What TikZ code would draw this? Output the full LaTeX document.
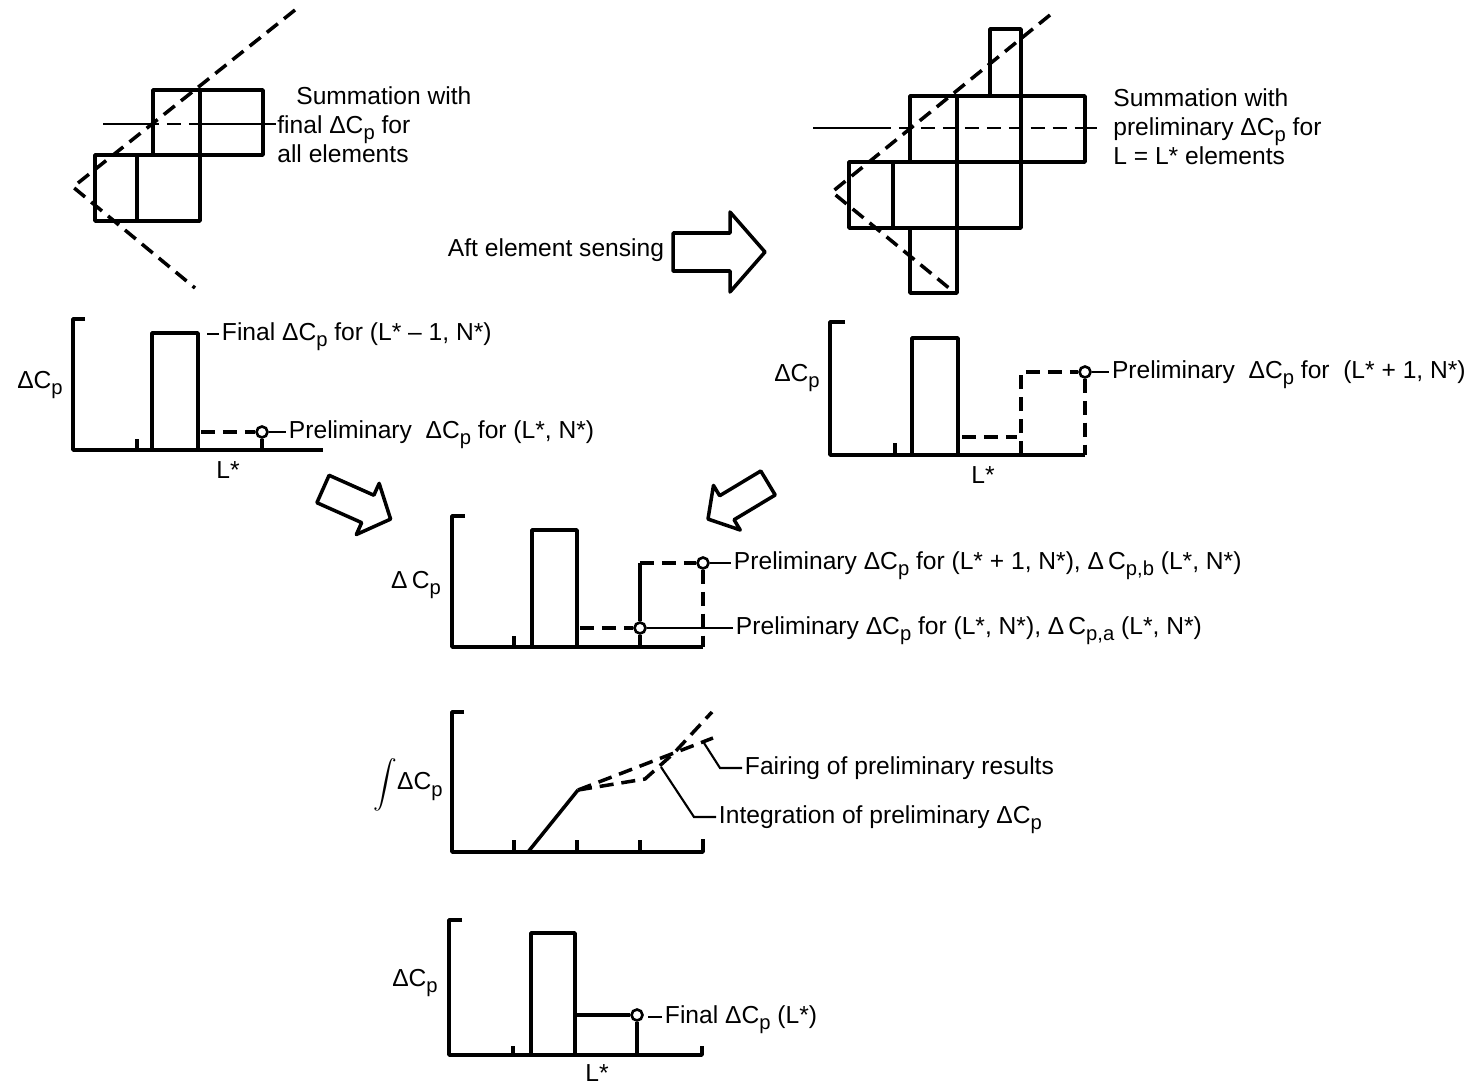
\documentclass[tikz,border=0pt]{standalone}
\usepackage{fontspec}
\setmainfont{Liberation Sans}
\usetikzlibrary{positioning}
\newcommand{\lblfont}{\fontsize{14}{14.9}\selectfont\lineskiplimit=-20pt\relax}
\newcommand{\blockfont}{\fontsize{14}{16.6}\selectfont\lineskiplimit=-20pt\relax}
\newcommand{\dsub}[1]{\raisebox{-0.5ex}{\fontsize{11.5}{11.5}\selectfont #1}}
\newcommand{\dCp}{ΔC\dsub{p}}
\tikzset{
  outline/.style={line width=2pt, line join=round},
  dashline/.style={outline, dash pattern=on 8pt off 4.5pt},
  thinline/.style={line width=1.2pt},
  thindash/.style={thinline, dash pattern=on 8pt off 4.5pt},
  lbl/.style={font=\lblfont, inner sep=1.5pt, text height=1.38ex, text depth=0pt},
  axlbl/.style={font=\lblfont, inner sep=0pt},
  textblock/.style={font=\blockfont, align=left, inner sep=0pt},
  probe/.style={circle, draw, fill=white, line width=1.5pt, inner sep=0pt, minimum size=2.2mm},
  blockarrow/.style={line width=2pt, line join=round},
}

\begin{document}
\begin{tikzpicture}[x=0.02cm, y=-0.02cm]
\useasboundingbox (0,0) rectangle (1484,1088);

% ---------------- final summation sketch ----------------
\draw[outline] (153,90) rectangle (263,155);
\draw[outline] (95,155) rectangle (200,221);
\draw[outline] (200,90) -- (200,155);
\draw[outline] (137,155) -- (137,221);
\draw[thinline] (103,124) -- (145,124);
\draw[thindash] (145,124) -- (200,124);
\draw[thinline] (200,124) -- (276,124);
\draw[dashline] (295,10) -- (73,187) -- (195,288);
\node[textblock, anchor=north west] (sumA) at (277,86)
  {\hspace*{0.38cm}Summation with\\final \dCp\ for\\all elements};

% ---------------- preliminary summation sketch ----------------
\draw[outline] (990,29) rectangle (1021,96);
\draw[outline] (910,96) rectangle (1085,162);
\draw[outline] (849,162) rectangle (1021,228);
\draw[outline] (910,228) rectangle (957,293);
\draw[outline] (957,96) -- (957,228);
\draw[outline] (1021,96) -- (1021,162);
\draw[outline] (893,162) -- (893,228);
\draw[thinline] (813,128) -- (877,128);
\draw[thindash] (877,128) -- (1085,128);
\draw[thinline] (1085,128) -- (1097,128);
\draw[dashline] (1050,15) -- (832,192) -- (955,293);
\node[textblock, anchor=north west] (sumB) at (1113,88)
  {Summation with\\preliminary \dCp\ for\\L = L* elements};

% ---------------- sensing arrow ----------------
\node[axlbl] (aft) at (556,250) {Aft element sensing};
\begin{scope}[shift={(673,252)}]
  \draw[blockarrow] (0,-19) -- (57,-19) -- (57,-40) -- (92,0) -- (57,40) -- (57,19) -- (0,19) -- cycle;
\end{scope}

% ---------------- final / preliminary, element L* ----------------
\draw[outline] (85,319) -- (73,319) -- (73,450) -- (323,450);
\draw[outline] (137,450) -- (137,439);
\draw[outline] (152,450) -- (152,333) -- (198,333) -- (198,450);
\node[probe] (pA) at (262,432) {};
\draw[dashline] (201,432) -- (pA);
\draw[outline] (pA) -- (262,450);
\node[axlbl] (yA) at (40,385) {\dCp};
\node[axlbl] (xA) at (228,470) {L*};
\node[lbl, anchor=west] (finA) at (219,334) {Final \dCp\ for (L* -- 1, N*)};
\draw[thinline] (finA.west) -- ++(-12,0);
\node[lbl, anchor=west] (preA) at (286,432) {Preliminary\ \ \dCp\ for (L*, N*)};
\draw[thinline] (pA) -- (preA);

% ---------------- preliminary, element L*+1 ----------------
\draw[outline] (845,322) -- (830,322) -- (830,455) -- (1085,455);
\draw[outline] (895,455) -- (895,443);
\draw[outline] (912,455) -- (912,338) -- (958,338) -- (958,455);
\draw[dashline] (962,437) -- (1017,437);
\node[probe] (pB) at (1085,372) {};
\draw[dashline] (1021,455) -- (1021,372) -- (pB);
\draw[dashline] (pB) -- (1085,455);
\node[axlbl] (yB) at (797,378) {\dCp};
\node[axlbl] (xB) at (983,475) {L*};
\node[lbl, anchor=west] (preB) at (1109,372) {Preliminary\ \ \dCp\ for\ \ (L* + 1, N*)};
\draw[thinline] (pB) -- (preB);

% merging arrows
\begin{scope}[shift={(323,489)}, rotate=-24]
  \draw[blockarrow] (0,-15) -- (49,-15) -- (49,-28) -- (74,0) -- (49,28) -- (49,15) -- (0,15) -- cycle;
\end{scope}
\begin{scope}[shift={(768,483)}, rotate=-149]
  \draw[blockarrow] (0,-14) -- (48,-14) -- (48,-26) -- (70,0) -- (48,26) -- (48,14) -- (0,14) -- cycle;
\end{scope}

% ---------------- both preliminary values ----------------
\draw[outline] (465,516) -- (452,516) -- (452,647) -- (703,647);
\draw[outline] (514,647) -- (514,636);
\draw[outline] (532,647) -- (532,530) -- (577,530) -- (577,647);
\node[probe] (pC) at (640,628) {};
\node[probe] (pD) at (703,563) {};
\draw[dashline] (580,628) -- (pC);
\draw[outline] (pC) -- (640,647);
\draw[outline] (pC) -- (640,563);
\draw[dashline] (640,563) -- (pD);
\draw[dashline] (pD) -- (703,647);
\node[axlbl] (yC) at (416,585) {Δ\,C\dsub{p}};
\node[lbl, anchor=west] (preC) at (731,563)
  {Preliminary \dCp\ for (L* + 1, N*), Δ\,C\dsub{p,b} (L*, N*)};
\node[lbl, anchor=west] (preD) at (733,628)
  {Preliminary \dCp\ for (L*, N*), Δ\,C\dsub{p,a} (L*, N*)};
\draw[thinline] (pD) -- (preC);
\draw[thinline] (pC) -- (preD);

% ---------------- integration and fairing ----------------
\draw[outline] (464,712) -- (452,712) -- (452,852) -- (703,852) -- (703,839);
\foreach \t in {514,577,640}
  \draw[outline] (\t,852) -- (\t,840);
\coordinate (kink) at (578,790);
\draw[outline] (528,852) -- (kink);
\draw[dashline] (kink) -- (645,779) -- (674,753) -- (712,712);
\draw[dashline] (kink) -- (713,738);
\node[axlbl] (yE) at (408,785) {\raisebox{-0.3ex}{\scalebox{1.35}{$\displaystyle\int$}}\dCp};
\coordinate (fairpt) at (704,743);
\coordinate (intpt) at (661,767);
\node[lbl, anchor=west] (fair) at (742,768) {Fairing of preliminary results};
\node[lbl, anchor=west] (integ) at (716,817) {Integration of preliminary \dCp};
\draw[thinline] (fair.west) -- ++(-22,0) -- (fairpt);
\draw[thinline] (integ.west) -- ++(-22,0) -- (intpt);

% ---------------- final value ----------------
\draw[outline] (462,920) -- (449,920) -- (449,1055) -- (702,1055) -- (702,1046);
\draw[outline] (513,1055) -- (513,1046);
\draw[outline] (531,1055) -- (531,933) -- (575,933) -- (575,1055);
\node[probe] (pE) at (637,1015) {};
\draw[outline] (575,1015) -- (pE);
\draw[outline] (pE) -- (637,1055);
\node[axlbl] (yF) at (415,983) {\dCp};
\node[axlbl] (xF) at (597,1073) {L*};
\node[lbl, anchor=west] (finF) at (662,1017) {Final \dCp\ (L*)};
\draw[thinline] (finF.west) -- ++(-14,0);
\end{tikzpicture}
\end{document}
